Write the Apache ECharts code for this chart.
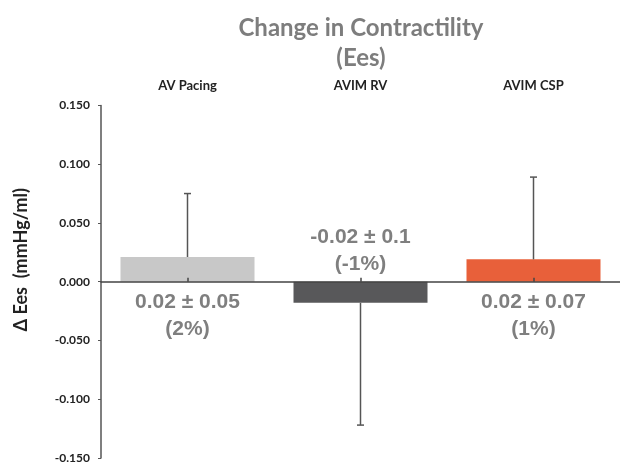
<!DOCTYPE html>
<html>
<head>
<meta charset="utf-8">
<script src="https://cdn.jsdelivr.net/npm/echarts@6/dist/echarts.min.js"></script>
<style>html,body{margin:0;padding:0;background:#fff;}#c{width:620px;height:464px;}</style>
</head>
<body>
<div id="c"></div>
<script>
const categories = ['AV Pacing', 'AVIM RV', 'AVIM CSP'];
const means = [0.021, -0.018, 0.019];
const errors = [0.054, 0.104, 0.070];
const meanTexts = ['0.02 ± 0.05', '-0.02 ± 0.1', '0.02 ± 0.07'];
const pctTexts = ['(2%)', '(-1%)', '(1%)'];
const barColors = ['#c8c8c8', '#58585a', '#e8603a'];
const yTicks = [-0.15, -0.10, -0.05, 0, 0.05, 0.10, 0.15];

const chart = echarts.init(document.getElementById('c'), null, {renderer: 'canvas'});

const barData = means.map((v, i) => ({
  value: v,
  itemStyle: {color: barColors[i]},
  label: {position: v >= 0 ? 'bottom' : 'top', distance: v >= 0 ? 7 : 4}
}));

chart.setOption({
  animation: false,
  title: {
    text: 'Change in Contractility\n(Ees)',
    left: 356, top: 8, textAlign: 'center',
    textStyle: {fontFamily: 'Lato', fontSize: 24, fontWeight: 'bold', color: '#7d7d7d', lineHeight: 30}
  },
  grid: {left: 101, right: -3, top: 105.4, bottom: 3.3, containLabel: false},
  xAxis: [{
    type: 'category', data: categories, position: 'bottom', z: 3,
    axisLine: {onZero: true, lineStyle: {color: '#444', width: 1.5}},
    axisTick: {show: true, inside: true, alignWithLabel: true, length: 4, lineStyle: {color: '#444', width: 1.5}},
    axisLabel: {show: false}, splitLine: {show: false}
  }, {
    type: 'category', data: categories, position: 'top',
    axisLine: {show: false}, axisTick: {show: false},
    axisLabel: {margin: 13, fontFamily: 'Lato', fontWeight: 'bold', fontSize: 13, color: '#222'}
  }],
  yAxis: {
    type: 'value', min: -0.15, max: 0.15, interval: 0.05,
    axisLine: {show: true, lineStyle: {color: '#555', width: 1.5}},
    axisTick: {show: true, length: 3, lineStyle: {color: '#555'}},
    axisLabel: {margin: 11, fontFamily: 'Lato', fontWeight: 'bold', fontSize: 12, color: '#222',
      formatter: v => v.toFixed(3)},
    splitLine: {show: false}
  },
  graphic: [{
    type: 'text', left: 12, top: 188, rotation: Math.PI / 2,
    style: {text: 'Δ Ees  (mmHg/ml)', font: 'bold 18px Lato', fill: '#222'}
  }],
  series: [{
    type: 'bar', data: barData, barWidth: 134, xAxisIndex: 0,
    label: {
      show: true, fontFamily: 'Liberation Sans', fontWeight: 'bold', fontSize: 21, color: '#7f7f7f', lineHeight: 27,
      formatter: p => meanTexts[p.dataIndex] + '\n' + pctTexts[p.dataIndex]
    }
  }, {
    type: 'custom', xAxisIndex: 0, z: 5,
    data: means.map((m, i) => [i, m, m + Math.sign(m) * errors[i]]),
    renderItem: (params, api) => {
      const a = api.coord([api.value(0), api.value(1)]);
      const b = api.coord([api.value(0), api.value(2)]);
      const st = {stroke: '#555', lineWidth: 1.5};
      return {type: 'group', children: [
        {type: 'line', shape: {x1: a[0], y1: a[1], x2: b[0], y2: b[1]}, style: st},
        {type: 'line', shape: {x1: b[0] - 3.5, y1: b[1], x2: b[0] + 3.5, y2: b[1]}, style: st}
      ]};
    }
  }]
});
</script>
</body>
</html>
